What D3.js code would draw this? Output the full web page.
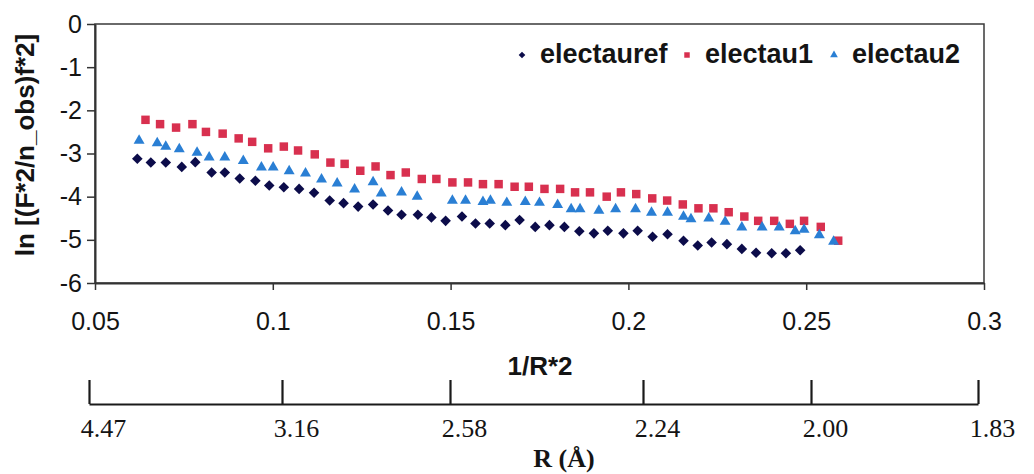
<!DOCTYPE html>
<html>
<head>
<meta charset="utf-8">
<script src="https://cdn.jsdelivr.net/npm/d3@7"></script>
<style>
  body { margin: 0; background: #fff; }
  svg { display: block; }
</style>
</head>
<body>
<div id="chart"></div>
<script>
// Series: x = 1/R^2, y = ln[(F^2/n_obs)f^2]
var refX = [0.0619,0.0657,0.0699,0.0744,0.0782,0.0828,0.0865,0.0907,0.0951,0.0990,0.1031,0.1074,0.1116,0.1160,0.1199,0.1240,0.1282,0.1324,0.1362,0.1408,0.1446,0.1486,0.1532,0.1570,0.1610,0.1654,0.1694,0.1738,0.1778,0.1820,0.1862,0.1903,0.1942,0.1986,0.2026,0.2068,0.2110,0.2155,0.2195,0.2234,0.2277,0.2319,0.2359,0.2403,0.2443,0.2483];
var refY = [-3.12,-3.21,-3.21,-3.31,-3.20,-3.44,-3.44,-3.58,-3.63,-3.74,-3.78,-3.82,-3.91,-4.09,-4.15,-4.23,-4.18,-4.32,-4.42,-4.42,-4.48,-4.56,-4.46,-4.62,-4.62,-4.66,-4.54,-4.70,-4.66,-4.70,-4.80,-4.85,-4.79,-4.85,-4.79,-4.93,-4.87,-5.02,-5.13,-5.06,-5.10,-5.21,-5.30,-5.31,-5.31,-5.24];

var tau1X = [0.0642,0.0683,0.0728,0.0774,0.0812,0.0859,0.0904,0.0942,0.0987,0.1031,0.1071,0.1118,0.1162,0.1202,0.1246,0.1289,0.1331,0.1374,0.1419,0.1460,0.1505,0.1549,0.1591,0.1635,0.1680,0.1720,0.1764,0.1808,0.1850,0.1892,0.1939,0.1979,0.2022,0.2067,0.2109,0.2153,0.2197,0.2239,0.2282,0.2326,0.2365,0.2410,0.2454,0.2494,0.2541,0.2590];
var tau1Y = [-2.22,-2.32,-2.40,-2.32,-2.50,-2.54,-2.65,-2.73,-2.88,-2.84,-2.93,-3.02,-3.21,-3.24,-3.40,-3.30,-3.50,-3.44,-3.59,-3.59,-3.67,-3.67,-3.71,-3.71,-3.77,-3.77,-3.82,-3.82,-3.90,-3.90,-4.00,-3.90,-3.94,-4.04,-4.09,-4.18,-4.27,-4.27,-4.36,-4.46,-4.56,-4.56,-4.63,-4.56,-4.70,-5.02];

var tau2X = [0.0624,0.0675,0.0699,0.0737,0.0787,0.0821,0.0865,0.0917,0.0968,0.1001,0.1046,0.1092,0.1137,0.1181,0.1230,0.1282,0.1305,0.1362,0.1406,0.1505,0.1542,0.1591,0.1612,0.1658,0.1710,0.1750,0.1801,0.1839,0.1864,0.1917,0.1964,0.2020,0.2065,0.2110,0.2155,0.2176,0.2226,0.2272,0.2319,0.2376,0.2424,0.2469,0.2494,0.2537,0.2577];
var tau2Y = [-2.70,-2.76,-2.84,-2.90,-2.98,-3.09,-3.09,-3.17,-3.32,-3.32,-3.41,-3.46,-3.60,-3.69,-3.83,-3.66,-3.92,-3.90,-4.00,-4.09,-4.09,-4.12,-4.09,-4.14,-4.12,-4.14,-4.19,-4.29,-4.29,-4.32,-4.29,-4.29,-4.37,-4.37,-4.46,-4.52,-4.50,-4.58,-4.71,-4.71,-4.71,-4.80,-4.76,-4.89,-5.04];

var seriesNames = ["electauref", "electau1", "electau2"];
var xTicks = [0.05, 0.1, 0.15, 0.2, 0.25, 0.3];
var yTicks = [0, -1, -2, -3, -4, -5, -6];
var rTicks = [4.47, 3.16, 2.58, 2.24, 2.00, 1.83];

// layout (note: "top" is taken by window, so prefix everything)
var W = 1034, H = 474;
var plotLeft = 95, plotRight = 984, plotTop = 24, plotBottom = 283;
// where the pasted R axis puts its ticks
var rTickPx = [89, 282, 450, 643, 811, 978];
var rAxisY = 404;

var sans = "'Liberation Sans', Arial, sans-serif";
var serif = "'Liberation Serif', 'Times New Roman', serif";
var ink = "#141414";

var colors = ["#0c0c4a", "#d8304f", "#2a7fd4"];
var shapes = [
  d3.symbol().type(d3.symbolSquare).size(56),   // rotated 45deg -> diamond
  d3.symbol().type(d3.symbolSquare).size(72),
  d3.symbol().type(d3.symbolTriangle).size(52)
];
var legendShapes = [
  d3.symbol().type(d3.symbolSquare).size(22),
  d3.symbol().type(d3.symbolSquare).size(30),
  d3.symbol().type(d3.symbolTriangle).size(26)
];

var svg = d3.select("#chart").append("svg")
    .attr("width", W)
    .attr("height", H);

var x = d3.scaleLinear().domain([0.05, 0.3]).range([plotLeft, plotRight]);
var y = d3.scaleLinear().domain([-6, 0]).range([plotBottom, plotTop]);

// plot area frame
svg.append("rect")
   .attr("x", plotLeft).attr("y", plotTop)
   .attr("width", plotRight - plotLeft).attr("height", plotBottom - plotTop)
   .attr("fill", "none")
   .attr("stroke", "#3a3a3a")
   .attr("stroke-width", 1.5);

// y axis
var yAxis = svg.append("g")
   .attr("transform", "translate(" + plotLeft + ",0)")
   .call(d3.axisLeft(y).tickValues(yTicks).tickSize(8).tickPadding(5)
           .tickSizeOuter(0).tickFormat(function(d) { return String(d); }));
yAxis.select(".domain").attr("stroke", "#333").attr("stroke-width", 2);
yAxis.selectAll(".tick line").attr("stroke", "#333").attr("stroke-width", 1.5);
yAxis.selectAll("text")
     .attr("font-family", sans).attr("font-size", 25).attr("fill", ink);

// x axis
var xAxis = svg.append("g")
   .attr("transform", "translate(0," + plotBottom + ")")
   .call(d3.axisBottom(x).tickValues(xTicks).tickSize(7).tickPadding(22)
           .tickSizeOuter(0).tickFormat(function(d) { return String(d); }));
xAxis.select(".domain").attr("stroke", "#333").attr("stroke-width", 2);
xAxis.selectAll(".tick line").attr("stroke", "#333").attr("stroke-width", 1.5);
xAxis.selectAll("text")
     .attr("font-family", sans).attr("font-size", 25).attr("fill", ink);

// axis titles
svg.append("text")
   .attr("x", 540).attr("y", 375)
   .attr("text-anchor", "middle")
   .attr("font-family", sans).attr("font-weight", "bold").attr("font-size", 26)
   .attr("fill", ink)
   .text("1/R*2");

svg.append("text")
   .attr("transform", "translate(34,145) rotate(-90)")
   .attr("text-anchor", "middle")
   .attr("font-family", sans).attr("font-weight", "bold").attr("font-size", 26)
   .attr("fill", ink)
   .text("ln [(F*2/n_obs)f*2]");

// points
var series = [
  { x: refX, y: refY },
  { x: tau1X, y: tau1Y },
  { x: tau2X, y: tau2Y }
];

series.forEach(function(s, i) {
    var pts = s.x.map(function(v, j) { return { x: v, y: s.y[j] }; });
    svg.append("g").selectAll("path")
       .data(pts)
       .enter()
       .append("path")
       .attr("d", shapes[i])
       .attr("transform", function(d) {
           return "translate(" + x(d.x) + "," + y(d.y) + ")" + (i === 0 ? " rotate(45)" : "");
       })
       .attr("fill", colors[i]);
});

// legend
var legendPos = [{ m: 522, t: 540 }, { m: 687, t: 705 }, { m: 834, t: 852 }];
var legend = svg.append("g");
seriesNames.forEach(function(name, i) {
    legend.append("path")
          .attr("d", legendShapes[i])
          .attr("transform", "translate(" + legendPos[i].m + ",55)" + (i === 0 ? " rotate(45)" : ""))
          .attr("fill", colors[i]);
    legend.append("text")
          .attr("x", legendPos[i].t).attr("y", 63)
          .attr("font-family", sans).attr("font-weight", "bold").attr("font-size", 27)
          .attr("fill", ink)
          .text(name);
});

// secondary R axis pasted below the chart
var r = d3.scaleLinear().domain(rTicks).range(rTickPx);
var rAxis = svg.append("g")
   .attr("transform", "translate(0," + rAxisY + ")")
   .call(d3.axisBottom(r).tickValues(rTicks).tickSize(-24).tickPadding(15)
           .tickSizeOuter(0).tickFormat(d3.format(".2f")));
rAxis.select(".domain").attr("stroke", "#1a1a1a").attr("stroke-width", 2.2);
rAxis.selectAll(".tick line").attr("stroke", "#1a1a1a").attr("stroke-width", 2.2);
rAxis.selectAll("text")
     .attr("dx", 14)
     .attr("font-family", serif).attr("font-size", 26).attr("fill", ink);

svg.append("text")
   .attr("x", 564).attr("y", 467)
   .attr("text-anchor", "middle")
   .attr("font-family", serif).attr("font-weight", "bold").attr("font-size", 26)
   .attr("fill", ink)
   .text("R (Å)");
</script>
</body>
</html>
